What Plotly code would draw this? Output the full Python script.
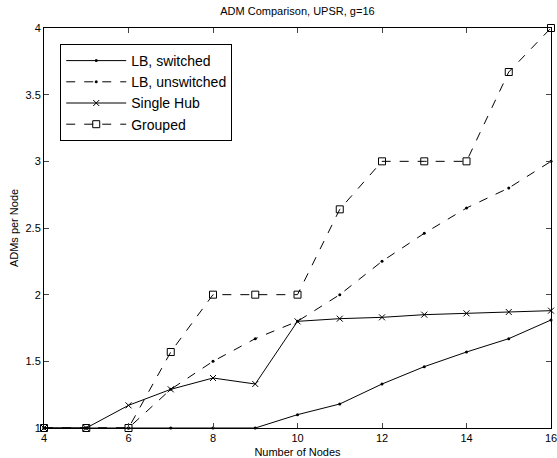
import plotly.graph_objects as go

nodes = [4, 5, 6, 7, 8, 9, 10, 11, 12, 13, 14, 15, 16]
lb_switched = [1, 1, 1, 1, 1, 1, 1.10, 1.18, 1.33, 1.46, 1.57, 1.67, 1.81]
lb_unswitched = [1, 1, 1, 1.29, 1.5, 1.67, 1.80, 2.0, 2.25, 2.46, 2.65, 2.80, 3.0]
single_hub = [1, 1, 1.17, 1.29, 1.375, 1.33, 1.80, 1.82, 1.83, 1.85, 1.86, 1.87, 1.88]
grouped = [1, 1, 1, 1.57, 2.0, 2.0, 2.0, 2.64, 3.0, 3.0, 3.0, 3.67, 4.0]

x_ticks = [4, 6, 8, 10, 12, 14, 16]
y_ticks = [1, 1.5, 2, 2.5, 3, 3.5, 4]
y_tick_text = ["1", "1.5", "2", "2.5", "3", "3.5", "4"]

FONT = "Liberation Sans, Arial, Helvetica, sans-serif"

fig = go.Figure()
fig.add_trace(go.Scatter(x=nodes, y=lb_switched, name="LB, switched", mode="lines+markers",
                         line=dict(color="black", width=1),
                         marker=dict(symbol="circle", size=3, color="black"), cliponaxis=False))
fig.add_trace(go.Scatter(x=nodes, y=lb_unswitched, name="LB, unswitched", mode="lines+markers",
                         line=dict(color="black", width=1, dash="dash"),
                         marker=dict(symbol="circle", size=3, color="black"), cliponaxis=False))
fig.add_trace(go.Scatter(x=nodes, y=single_hub, name="Single Hub", mode="lines+markers",
                         line=dict(color="black", width=1),
                         marker=dict(symbol="x-thin-open", size=6, color="black",
                                     line=dict(color="black", width=1)), cliponaxis=False))
fig.add_trace(go.Scatter(x=nodes, y=grouped, name="Grouped", mode="lines+markers",
                         line=dict(color="black", width=1, dash="dash"),
                         marker=dict(symbol="square-open", size=7, color="black",
                                     line=dict(color="black", width=1)), cliponaxis=False))

fig.update_layout(
    width=557, height=458,
    margin=dict(l=44, r=6, t=28, b=30),
    paper_bgcolor="white", plot_bgcolor="white",
    font=dict(family=FONT, size=11, color="black"),
    title=dict(text="ADM Comparison, UPSR, g=16", x=0.534, xanchor="center",
               y=0.975, yanchor="middle", font=dict(size=11)),
    showlegend=True,
    legend=dict(x=0.032, y=0.96, xanchor="left", yanchor="top",
                bordercolor="black", borderwidth=1, bgcolor="white",
                font=dict(size=14), tracegroupgap=0, itemwidth=60),
    xaxis=dict(range=[4, 16], tickvals=x_ticks, ticks="inside", ticklen=5,
               showline=True, linecolor="black", linewidth=1, mirror="ticks",
               showgrid=False, zeroline=False, automargin=False,
               ticklabeloverflow="allow",
               title=dict(text="Number of Nodes", standoff=7, font=dict(size=11))),
    yaxis=dict(range=[1, 4], tickvals=y_ticks, ticktext=y_tick_text, ticks="inside", ticklen=5,
               showline=True, linecolor="black", linewidth=1, mirror="ticks",
               showgrid=False, zeroline=False, automargin=False,
               ticklabeloverflow="allow",
               title=dict(text="ADMs per Node", standoff=4, font=dict(size=11))),
)

fig.write_html("out.html")
